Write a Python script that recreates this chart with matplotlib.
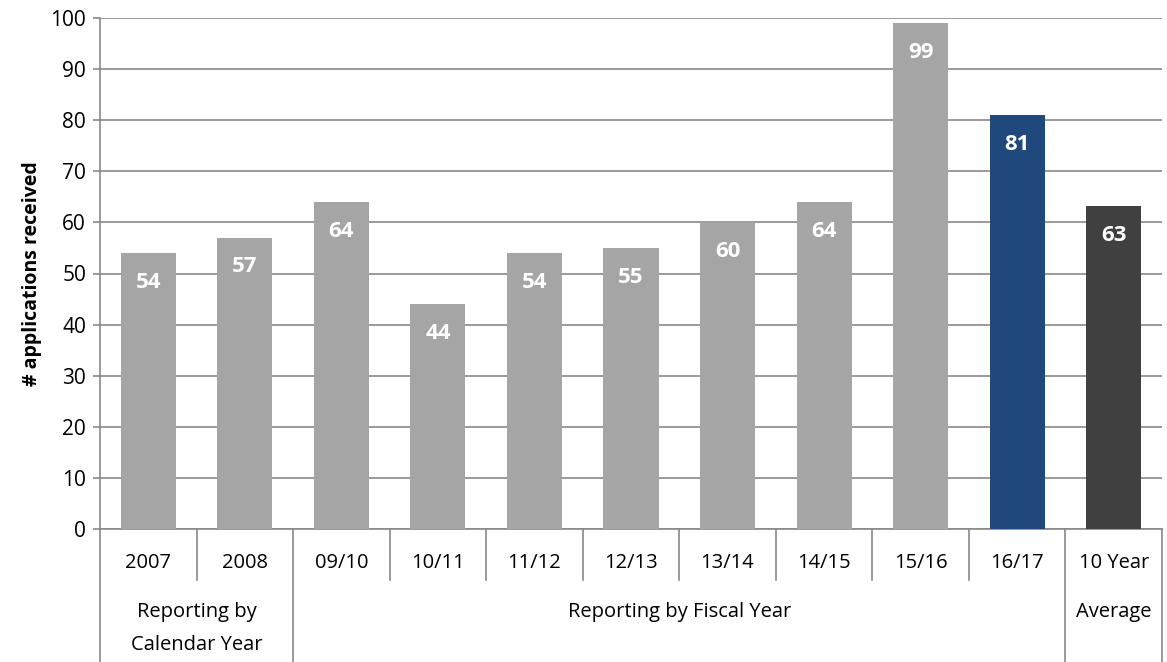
import matplotlib
matplotlib.use("Agg")
import matplotlib.pyplot as plt
import matplotlib.transforms as mtransforms

# ── Data ─────────────────────────────────────────────────────────────────────
periods = ["2007", "2008", "09/10", "10/11", "11/12", "12/13", "13/14",
           "14/15", "15/16", "16/17", "10 Year"]
values = [54, 57, 64, 44, 54, 55, 60, 64, 99, 81, 63.2]
groups = ["Reporting by\nCalendar Year", "Reporting by Fiscal Year", "Average"]
group_spans = [(0, 2), (2, 10), (10, 11)]   # category index ranges [start, end)

# ── Palette ──────────────────────────────────────────────────────────────────
C_BAR = "#a5a5a5"
C_CURRENT = "#1f497d"
C_AVG = "#404040"
C_LINE = "#898989"
colors = [C_BAR] * 9 + [C_CURRENT, C_AVG]

plt.rcParams["font.family"] = ["Open Sans", "DejaVu Sans"]
FS = 14.5

W, H = 1167, 662
fig = plt.figure(figsize=(W / 100, H / 100), dpi=100)
x0, x1, y0, y1 = 100, 1162, 529, 18
ax = fig.add_axes([x0 / W, 1 - y0 / H, (x1 - x0) / W, (y0 - y1) / H])
px = 1 / (y0 - y1)   # one pixel in axes-fraction units (vertical)

xs = [i + 0.5 for i in range(len(values))]
ax.bar(xs, values, width=0.57, color=colors, zorder=3)

for x, v in zip(xs, values):
    ax.annotate(f"{v:.0f}", (x, v), xytext=(0, -21), textcoords="offset points",
                ha="center", va="center", color="white", fontsize=16,
                fontweight="bold", zorder=4)

ax.set_xlim(0, len(values))
ax.set_ylim(0, 100)
ax.set_yticks(range(0, 101, 10))
ax.yaxis.grid(True, color=C_LINE, lw=1.2, zorder=0)
ax.tick_params(axis="y", length=5, width=1.2, color=C_LINE, labelsize=15, pad=5)
ax.tick_params(axis="x", bottom=False, labelbottom=False)
for s in ["top", "right"]:
    ax.spines[s].set_visible(False)
for s in ["left", "bottom"]:
    ax.spines[s].set_color(C_LINE)
    ax.spines[s].set_linewidth(1.2)
ax.set_ylabel("# applications received", fontsize=14, fontweight="bold", labelpad=6)

# ── Multi-level category axis ────────────────────────────────────────────────
trans = mtransforms.blended_transform_factory(ax.transData, ax.transAxes)
long_edges = {a for a, b in group_spans} | {len(values)}
for i in range(len(values) + 1):
    bottom = -(H - y0) * px if i in long_edges else -51 * px
    ax.plot([i, i], [0, bottom], color=C_LINE, lw=1.2, transform=trans,
            clip_on=False)

for x, lab in zip(xs, periods):
    ax.text(x, -34 * px, lab, transform=trans, ha="center", va="center",
            fontsize=FS, clip_on=False)

for lab, (a, b) in zip(groups, group_spans):
    for k, line in enumerate(lab.split("\n")):
        ax.text((a + b) / 2, (-83 - 33 * k) * px, line, transform=trans,
                ha="center", va="center", fontsize=FS, clip_on=False)

fig.savefig("out.png", dpi=100)
